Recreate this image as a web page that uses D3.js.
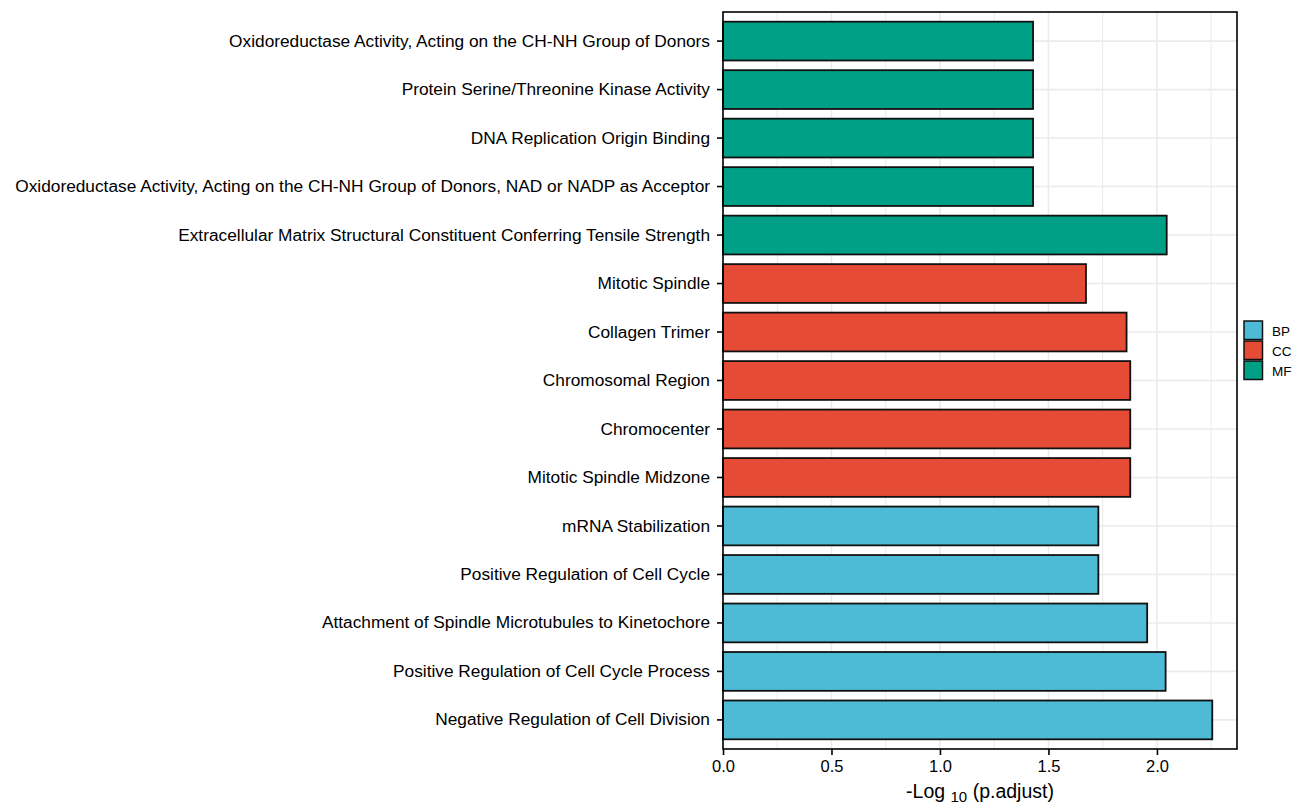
<!DOCTYPE html>
<html><head><meta charset="utf-8">
<script src="https://d3js.org/d3.v7.min.js"></script>
<style>body{margin:0;background:#fff;} text{font-family:"Liberation Sans",Arial,sans-serif;}</style>
</head><body><svg id="c" width="1299" height="808"></svg>
<script>
const terms = [
  "Oxidoreductase Activity, Acting on the CH-NH Group of Donors",
  "Protein Serine/Threonine Kinase Activity",
  "DNA Replication Origin Binding",
  "Oxidoreductase Activity, Acting on the CH-NH Group of Donors, NAD or NADP as Acceptor",
  "Extracellular Matrix Structural Constituent Conferring Tensile Strength",
  "Mitotic Spindle",
  "Collagen Trimer",
  "Chromosomal Region",
  "Chromocenter",
  "Mitotic Spindle Midzone",
  "mRNA Stabilization",
  "Positive Regulation of Cell Cycle",
  "Attachment of Spindle Microtubules to Kinetochore",
  "Positive Regulation of Cell Cycle Process",
  "Negative Regulation of Cell Division"
];
const values = [1.429, 1.429, 1.429, 1.429, 2.045, 1.673, 1.860, 1.877, 1.877, 1.877, 1.730, 1.730, 1.955, 2.040, 2.255];
const groups = ["MF","MF","MF","MF","MF","CC","CC","CC","CC","CC","BP","BP","BP","BP","BP"];
const legendGroups = ["BP","CC","MF"];
const groupColors = ["#4DBBD5","#E64B35","#00A087"];
const xTicks = [0, 0.5, 1.0, 1.5, 2.0];
const xMinor = [0.25, 0.75, 1.25, 1.75, 2.25];

const svg = d3.select("#c");
const L = 723, R = 1237, T = 12, B = 749;
const x = d3.scaleLinear().domain([0, 2.369]).range([L, R]);
const n = terms.length;
const step = (B - T) / (n + 0.2);
const y = d3.scaleBand().domain(terms).range([T + 0.6*step - step*0.5, B - 0.6*step + step*0.5]).paddingInner(0.2).paddingOuter(0.1);
const color = d3.scaleOrdinal().domain(legendGroups).range(groupColors);

// grid
const g = svg.append("g");
g.selectAll(".vmin").data(xMinor).join("line").attr("x1",d=>x(d)).attr("x2",d=>x(d)).attr("y1",T).attr("y2",B).attr("stroke","#EBEBEB").attr("stroke-width",1);
g.selectAll(".vmaj").data(xTicks).join("line").attr("x1",d=>x(d)).attr("x2",d=>x(d)).attr("y1",T).attr("y2",B).attr("stroke","#EBEBEB").attr("stroke-width",1.6);
g.selectAll(".h").data(terms).join("line").attr("x1",L).attr("x2",R).attr("y1",d=>y(d)+y.bandwidth()/2).attr("y2",d=>y(d)+y.bandwidth()/2).attr("stroke","#EBEBEB").attr("stroke-width",1.6);

// bars
svg.append("g").selectAll("rect").data(terms).join("rect")
  .attr("x", x(0)).attr("y", d=>y(d)).attr("height", y.bandwidth())
  .attr("width", (d,i)=>x(values[i]) - x(0))
  .attr("fill", (d,i)=>color(groups[i])).attr("stroke","#111").attr("stroke-width",1.8);

// border
svg.append("rect").attr("x",L).attr("y",T).attr("width",R-L).attr("height",B-T).attr("fill","none").attr("stroke","#000").attr("stroke-width",1.6);

// y axis
const ya = svg.append("g").attr("transform",`translate(${L},0)`).call(d3.axisLeft(y).tickSize(6).tickPadding(7));
ya.select(".domain").remove();
ya.selectAll("line").attr("stroke","#000").attr("stroke-width",1.6);
ya.selectAll("text").attr("font-size",17.3).attr("fill","#000").style("font-family","Liberation Sans, Arial, sans-serif");

// x axis
const xa = svg.append("g").attr("transform",`translate(0,${B})`).call(d3.axisBottom(x).tickValues(xTicks).tickFormat(d3.format(".1f")).tickSize(6).tickPadding(5));
xa.select(".domain").remove();
xa.selectAll("line").attr("stroke","#000").attr("stroke-width",1.6);
xa.selectAll("text").attr("font-size",16.5).attr("fill","#000").style("font-family","Liberation Sans, Arial, sans-serif");

// x title
const tt = svg.append("text").attr("x",(L+R)/2).attr("y",798).attr("text-anchor","middle").attr("font-size",19.5).attr("fill","#000");
tt.append("tspan").text("-Log ");
tt.append("tspan").attr("font-size",15).attr("dy",4).text("10");
tt.append("tspan").attr("dy",-4).text(" (p.adjust)");

// legend
const lg = svg.append("g").attr("transform","translate(1244,321)");
lg.selectAll("rect").data(legendGroups).join("rect").attr("x",0).attr("y",(d,i)=>i*20).attr("width",18.5).attr("height",18.5)
  .attr("fill",d=>color(d)).attr("stroke","#111").attr("stroke-width",1.5);
lg.selectAll("text").data(legendGroups).join("text").attr("x",28).attr("y",(d,i)=>i*20+14.5).attr("font-size",13.5).attr("fill","#000").text(d=>d);
</script></body></html>
